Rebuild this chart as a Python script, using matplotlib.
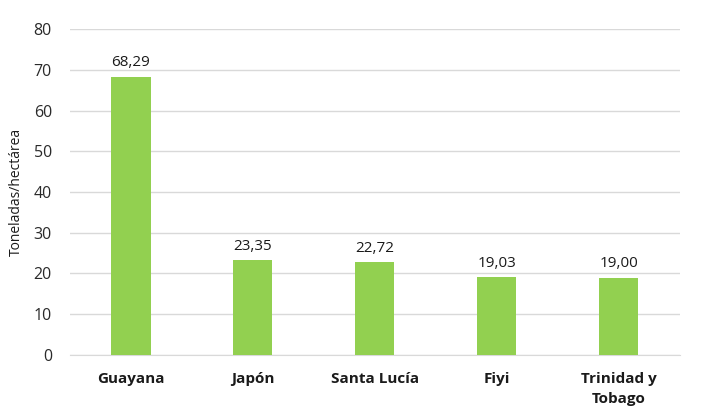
import matplotlib.pyplot as plt
import numpy as np

# Datos
paises = ["Guayana", "Japón", "Santa Lucía", "Fiyi", "Trinidad y\nTobago"]
rendimiento = [68.29, 23.35, 22.72, 19.03, 19.00]
etiquetas = ["68,29", "23,35", "22,72", "19,03", "19,00"]
yticks = [0, 10, 20, 30, 40, 50, 60, 70, 80]

plt.rcParams['font.family'] = ['Open Sans', 'DejaVu Sans']

fig = plt.figure(figsize=(7.03, 4.11), dpi=100)
ax = fig.add_axes([0.0996, 0.1363, 0.8674, 0.7931])

x = np.arange(len(paises))
bars = ax.bar(x, rendimiento, width=0.32, color='#92D050', zorder=3)

# Etiquetas de datos con coma decimal
for b, txt in zip(bars, etiquetas):
    ax.annotate(txt, xy=(b.get_x() + b.get_width() / 2, b.get_height()),
                xytext=(0, 4.5), textcoords='offset points',
                ha='center', va='bottom', fontsize=11, color='#1a1a1a')

ax.set_xlim(-0.5, len(paises) - 0.5)
ax.set_ylim(0, 80)
ax.set_yticks(yticks)
ax.yaxis.grid(True, color='#D9D9D9', linewidth=1, zorder=0)
ax.set_xticks(x)
ax.set_xticklabels(paises, fontweight='bold', fontsize=11, color='#1a1a1a',
                   linespacing=1.55)
ax.tick_params(axis='x', length=0, pad=12)
ax.tick_params(axis='y', length=0, pad=13, labelsize=11.5, labelcolor='#2a2a2a')

for s in ['top', 'right', 'left']:
    ax.spines[s].set_visible(False)
ax.spines['bottom'].set_color('#D9D9D9')

ax.set_ylabel('Toneladas/hectárea', fontsize=10, color='#1a1a1a', labelpad=7)

plt.savefig('out.png')
plt.close()
